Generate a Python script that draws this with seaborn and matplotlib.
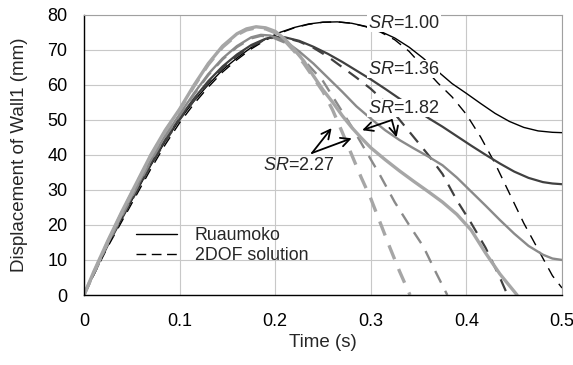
import numpy as np
import matplotlib
matplotlib.use("Agg")
import matplotlib.pyplot as plt
import seaborn as sns
from matplotlib.lines import Line2D

# Dados: deslocamento (mm) x tempo (s) para cada SR
# Ruaumoko (_r) e solução 2DOF (_d)
t_100_r = [0, 0.01, 0.025, 0.04, 0.055, 0.07, 0.085, 0.1, 0.115, 0.13, 0.145, 0.16, 0.175, 0.19, 0.205, 0.22, 0.235, 0.25, 0.265, 0.28, 0.295, 0.31, 0.325, 0.34, 0.355, 0.37, 0.385, 0.4, 0.415, 0.43, 0.445, 0.46, 0.475, 0.49, 0.5]
d_100_r = [0, 6, 14.5, 22, 29.5, 37, 43.8, 50, 55.3, 60, 64.2, 67.6, 70.6, 73, 74.9, 76.3, 77.3, 77.8, 77.9, 77.5, 76.6, 75.2, 73.3, 70.7, 67.5, 63.8, 60.3, 57.5, 54.6, 51.8, 49.5, 47.8, 46.8, 46.4, 46.3]
t_100_d = [0, 0.01, 0.025, 0.04, 0.055, 0.07, 0.085, 0.1, 0.115, 0.13, 0.145, 0.16, 0.175, 0.19, 0.205, 0.22, 0.235, 0.25, 0.265, 0.28, 0.295, 0.31, 0.325, 0.34, 0.355, 0.37, 0.385, 0.4, 0.415, 0.43, 0.445, 0.46, 0.475, 0.49, 0.5]
d_100_d = [0, 5.6, 13.8, 21.2, 28.6, 36, 42.9, 49.1, 54.5, 59.3, 63.6, 67.1, 70.2, 72.7, 74.7, 76.2, 77.2, 77.8, 77.9, 77.5, 76.5, 75, 72.8, 69.5, 65, 60.5, 56.5, 51.5, 45, 37.5, 29, 20.5, 13, 5.5, 2]

t_136_r = [0, 0.01, 0.025, 0.04, 0.055, 0.07, 0.085, 0.1, 0.115, 0.13, 0.145, 0.16, 0.175, 0.19, 0.2, 0.21, 0.225, 0.24, 0.255, 0.27, 0.285, 0.3, 0.315, 0.33, 0.345, 0.36, 0.375, 0.39, 0.405, 0.42, 0.435, 0.45, 0.465, 0.48, 0.49, 0.5]
d_136_r = [0, 6.1, 14.8, 22.5, 30, 37.5, 44.3, 50.5, 56, 61, 65.2, 68.6, 71.3, 73.1, 73.6, 73.5, 72.5, 70.8, 68.8, 66.5, 64, 61.5, 58.8, 56, 53.3, 50.5, 48, 45.3, 42.6, 40, 37.5, 35.2, 33.4, 32.2, 31.8, 31.6]
t_136_d = [0, 0.01, 0.025, 0.04, 0.055, 0.07, 0.085, 0.1, 0.115, 0.13, 0.145, 0.16, 0.175, 0.19, 0.2, 0.21, 0.225, 0.24, 0.255, 0.27, 0.285, 0.3, 0.315, 0.33, 0.345, 0.36, 0.375, 0.39, 0.405, 0.42, 0.435, 0.443]
d_136_d = [0, 5.8, 14.3, 22, 29.5, 37, 43.8, 50, 55.5, 60.5, 64.8, 68.2, 71, 72.9, 73.5, 73.4, 72.3, 70.5, 68, 65, 62, 58.8, 55, 50, 45, 40, 34.5, 27, 20.5, 13.5, 5, 0]

t_182_r = [0, 0.01, 0.025, 0.04, 0.055, 0.07, 0.085, 0.1, 0.115, 0.13, 0.145, 0.16, 0.175, 0.185, 0.195, 0.21, 0.225, 0.24, 0.255, 0.27, 0.285, 0.3, 0.315, 0.33, 0.345, 0.36, 0.375, 0.39, 0.405, 0.42, 0.435, 0.45, 0.465, 0.48, 0.49, 0.5]
d_182_r = [0, 6.2, 15, 23, 30.8, 38.5, 45.5, 51.5, 57.5, 63, 67.5, 71, 73.5, 74.2, 74, 72.5, 69.5, 66, 62, 58, 53.8, 50.3, 47, 44.2, 41.8, 39.5, 37, 33.5, 29.5, 25.5, 21.4, 17.5, 14, 11.5, 10.4, 10]
t_182_d = [0, 0.01, 0.025, 0.04, 0.055, 0.07, 0.085, 0.1, 0.115, 0.13, 0.145, 0.16, 0.175, 0.185, 0.195, 0.21, 0.225, 0.24, 0.25, 0.265, 0.28, 0.295, 0.31, 0.325, 0.34, 0.355, 0.368, 0.38]
d_182_d = [0, 6, 14.7, 22.7, 30.5, 38.2, 45.2, 51.2, 57.2, 62.7, 67.2, 70.7, 73.2, 73.9, 73.7, 72, 68.5, 64, 61, 54.5, 48, 41, 34, 26.5, 20, 13.8, 6.5, 0]

t_227_r = [0, 0.01, 0.025, 0.04, 0.055, 0.07, 0.085, 0.1, 0.115, 0.13, 0.145, 0.16, 0.17, 0.18, 0.19, 0.2, 0.21, 0.22, 0.23, 0.24, 0.25, 0.26, 0.27, 0.28, 0.29, 0.3, 0.315, 0.33, 0.345, 0.36, 0.375, 0.39, 0.405, 0.42, 0.435, 0.453]
d_227_r = [0, 6.5, 15.5, 24, 32, 40, 47, 53, 59.8, 66, 71, 74.5, 75.9, 76.5, 76.2, 75.2, 73, 70, 66.7, 62.5, 58.5, 55, 51.2, 47.8, 44.8, 42, 38.6, 35.4, 32.4, 29.5, 26.5, 23, 18.5, 12, 6, 0]
t_227_d = [0, 0.01, 0.025, 0.04, 0.055, 0.07, 0.085, 0.1, 0.115, 0.13, 0.145, 0.16, 0.17, 0.18, 0.19, 0.2, 0.21, 0.22, 0.23, 0.24, 0.25, 0.26, 0.27, 0.28, 0.29, 0.3, 0.31, 0.32, 0.33, 0.341]
d_227_d = [0, 6.2, 15.2, 23.7, 31.7, 39.7, 46.7, 52.7, 59.5, 65.7, 70.7, 74.2, 75.6, 76.2, 75.9, 74.8, 72.5, 69.5, 66, 62, 58, 52.8, 46.5, 40, 33.5, 27.5, 20.5, 13.5, 6.8, 0]

sns.set_style("white")
plt.rcParams['font.family'] = ['Liberation Sans', 'DejaVu Sans']
plt.rcParams['mathtext.fontset'] = 'custom'
plt.rcParams['mathtext.rm'] = 'Liberation Sans'
plt.rcParams['mathtext.it'] = 'Liberation Sans:italic'

fig = plt.figure(figsize=(5.73, 3.65), dpi=100)
ax = fig.add_axes([84 / 573, 1 - 295 / 365, 478 / 573, 280.5 / 365])

# (tempo, deslocamento, cor, espessura)
curvas = [
    (t_100_r, d_100_r, t_100_d, d_100_d, '#000000', 1.0),
    (t_136_r, d_136_r, t_136_d, d_136_d, '#404040', 1.6),
    (t_182_r, d_182_r, t_182_d, d_182_d, '#8a8a8a', 1.7),
    (t_227_r, d_227_r, t_227_d, d_227_d, '#a6a6a6', 2.4),
]
for tr, dr, td, dd, cor, lw in curvas:
    sns.lineplot(x=tr, y=dr, color=cor, lw=lw, ax=ax, legend=False)
    sns.lineplot(x=td, y=dd, color=cor, lw=lw, ax=ax, legend=False,
                 linestyle=(0, (6 / lw + 2, 4 / lw + 1.5)))

ax.set_xlim(0, 0.5)
ax.set_ylim(0, 80)
ax.set_xticks(np.arange(0, 0.51, 0.1))
ax.set_xticklabels(['0', '0.1', '0.2', '0.3', '0.4', '0.5'])
ax.set_yticks(np.arange(0, 81, 10))
ax.grid(True, color='#c8c8c8', lw=0.8)
ax.set_axisbelow(True)
for lado in ['top', 'right']:
    ax.spines[lado].set_color('#a0a0a0')
    ax.spines[lado].set_linewidth(0.8)
for lado in ['left', 'bottom']:
    ax.spines[lado].set_color('black')
    ax.spines[lado].set_linewidth(1.0)
ax.tick_params(direction='out', length=6, width=1, colors='black', labelsize=13, pad=6)
ax.tick_params(axis='x', pad=7)
ax.set_xlabel('Time (s)', fontsize=13.5, labelpad=3)
ax.set_ylabel('Displacement of Wall1 (mm)', fontsize=13.5, labelpad=14)

# Rótulos SR (fundo branco interrompe as curvas, como no original)
fundo = dict(facecolor='white', edgecolor='none', pad=0.5)
ax.text(0.297, 77.5, '$SR$=1.00', fontsize=13, va='center', ha='left', bbox=fundo)
ax.text(0.297, 64.4, '$SR$=1.36', fontsize=13, va='center', ha='left', bbox=fundo)
ax.text(0.297, 53.3, '$SR$=1.82', fontsize=13, va='center', ha='left', bbox=fundo)
ax.text(0.187, 37, '$SR$=2.27', fontsize=13, va='center', ha='left')

seta = dict(arrowstyle='->', lw=1.3, color='black', mutation_scale=16, shrinkA=0, shrinkB=0)
ax.annotate('', xy=(0.291, 47), xytext=(0.322, 49.9), arrowprops=seta)
ax.annotate('', xy=(0.327, 45), xytext=(0.322, 49.9), arrowprops=seta)
ax.annotate('', xy=(0.259, 47.6), xytext=(0.2385, 40.5), arrowprops=seta)
ax.annotate('', xy=(0.280, 44.7), xytext=(0.2385, 40.5), arrowprops=seta)

handles = [Line2D([], [], color='black', lw=1.0),
           Line2D([], [], color='black', lw=1.0, linestyle=(0, (7, 4)))]
ax.legend(handles, ['Ruaumoko', '2DOF solution'], loc='upper left',
          bbox_to_anchor=(0.075, 0.30), frameon=False, fontsize=12.8,
          handlelength=2.3, handletextpad=1.0, labelspacing=0.2)

fig.savefig('out.png', dpi=100)
